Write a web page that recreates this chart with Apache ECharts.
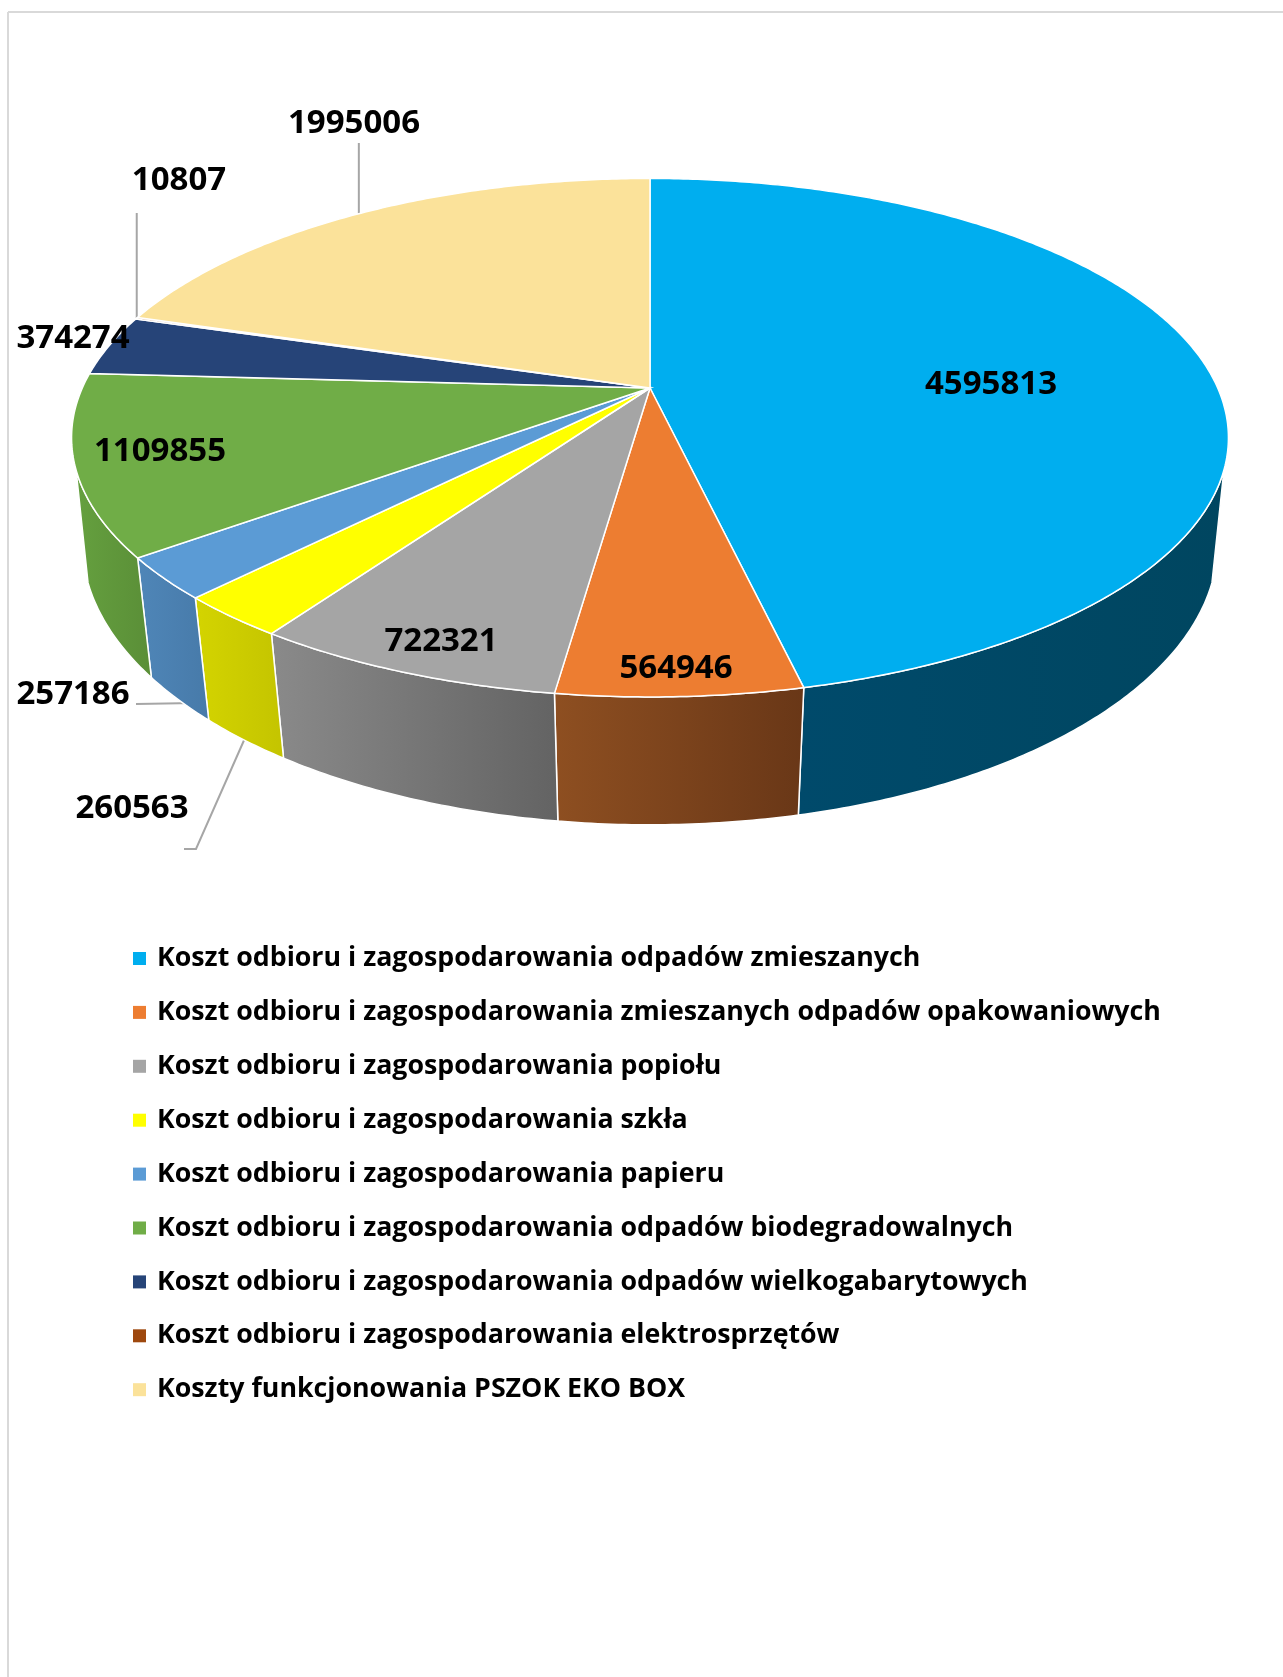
<!DOCTYPE html>
<html lang="pl">
<head>
<meta charset="utf-8">
<title>Koszty odbioru odpadów</title>
<script src="https://cdn.jsdelivr.net/npm/echarts@6/dist/echarts.min.js"></script>
<style>
  html, body { margin: 0; padding: 0; background: #fff; }
  #chart { width: 1283px; height: 1677px; }
</style>
</head>
<body>
<div id="chart"></div>
<script>
const categories = [
  'Koszt odbioru i zagospodarowania odpadów zmieszanych',
  'Koszt odbioru i zagospodarowania zmieszanych odpadów opakowaniowych',
  'Koszt odbioru i zagospodarowania popiołu',
  'Koszt odbioru i zagospodarowania szkła',
  'Koszt odbioru i zagospodarowania papieru',
  'Koszt odbioru i zagospodarowania odpadów biodegradowalnych',
  'Koszt odbioru i zagospodarowania odpadów wielkogabarytowych',
  'Koszt odbioru i zagospodarowania elektrosprzętów',
  'Koszty funkcjonowania PSZOK EKO BOX'
]
const values = [4595813, 564946, 722321, 260563, 257186, 1109855, 374274, 10807, 1995006]

const topColors = ['#00AEEF', '#ED7D31', '#A5A5A5', '#FFFF00', '#5B9BD5', '#70AD47', '#264478', '#9E480E', '#FBE29A']
const wallLeft = ['#004A6B', '#8E4F21', '#8A8A8A', '#D4D400', '#4F86B8', '#65A03F', '#1F3860', '#7A3A0C', '#C9B57B']
const wallRight = ['#004660', '#693717', '#636363', '#C4C400', '#477AA9', '#5A8E37', '#1F3860', '#7A3A0C', '#C9B57B']

// label centres in page pixels
const labelPos = [[991, 385], [676, 669], [441, 642], [132, 809], [73, 695], [160, 452], [73, 339], [179, 181], [354, 124]]

// pie projection: two discs seen in perspective, upper rim and wall foot
const cx = 650
const upper = {cy: 388, a: 567.7, b: 249.7, persp: 0.1917}
const lower = {cy: 493.6, a: 559.1, b: 273.6, persp: 0.174}
// the wall is only visible between these two angles (tangent of the silhouette)
const wallFrom = 108 / 180 * Math.PI
const wallTo = 252 / 180 * Math.PI

const total = values.reduce((a, b) => a + b, 0)
const starts = []
let running = 0
values.forEach(v => {
  starts.push(running / total * Math.PI * 2)
  running += v
})

function project(angle, disc) {
  const x = Math.sin(angle)
  const y = -Math.cos(angle)
  const f = 1 / (1 - disc.persp * y)
  return [cx + disc.a * x * f, disc.cy + disc.b * y * f]
}

function arcBetween(a0, a1, disc) {
  const n = Math.max(2, Math.ceil((a1 - a0) / 0.01))
  const pts = []
  for (let j = 0; j <= n; j++) pts.push(project(a0 + (a1 - a0) * j / n, disc))
  return pts
}

function endAngle(i) {
  return starts[i] + values[i] / total * Math.PI * 2
}

function midAngle(i) {
  return starts[i] + values[i] / total * Math.PI
}

function renderWall(params) {
  const i = params.dataIndex
  const a0 = Math.max(starts[i], wallFrom)
  const a1 = Math.min(endAngle(i), wallTo)
  if (a1 <= a0) return null
  return {
    type: 'polygon',
    shape: {points: arcBetween(a0, a1, upper).concat(arcBetween(a0, a1, lower).reverse())},
    style: {
      fill: new echarts.graphic.LinearGradient(0, 0, 1, 0, [
        {offset: 0, color: wallLeft[i]},
        {offset: 1, color: wallRight[i]}
      ]),
      stroke: '#fff',
      lineWidth: 1.5
    }
  }
}

function renderTop(i) {
  return function () {
    return {
      type: 'polygon',
      shape: {points: [[cx, upper.cy]].concat(arcBetween(starts[i], endAngle(i), upper))},
      style: {fill: topColors[i], stroke: '#fff', lineWidth: 1.5}
    }
  }
}

// 1995006 and 10807 go straight up from the rim, the two front ones leave the wall foot
function leaderPoints(i) {
  if (i === 8) {
    const p = project(midAngle(i), upper)
    return [p, [p[0], 143]]
  }
  if (i === 7) {
    const p = project(midAngle(i), upper)
    return [p, [p[0], 213]]
  }
  // starts under the wall, the walls are drawn over it
  if (i === 4) return [[195, 703], [136, 704]]
  if (i === 3) return [project(midAngle(i), lower), [196, 849], [184, 849]]
  return null
}

const series = [
  {
    type: 'custom',
    name: 'linie',
    coordinateSystem: 'none',
    silent: true,
    data: values.map((v, i) => i),
    renderItem: function (params) {
      const pts = leaderPoints(params.dataIndex)
      if (!pts) return null
      return {
        type: 'polyline',
        shape: {points: pts},
        style: {fill: null, stroke: '#A6A6A6', lineWidth: 2}
      }
    }
  },
  {
    type: 'custom',
    name: 'boki',
    coordinateSystem: 'none',
    silent: true,
    data: values.map((v, i) => i),
    renderItem: renderWall
  }
]

categories.forEach((name, i) => {
  series.push({
    type: 'custom',
    name: name,
    coordinateSystem: 'none',
    silent: true,
    itemStyle: {color: topColors[i]},
    data: [values[i]],
    renderItem: renderTop(i)
  })
})

series.push({
  type: 'custom',
  name: 'etykiety',
  coordinateSystem: 'none',
  silent: true,
  data: values,
  renderItem: function (params) {
    const i = params.dataIndex
    return {
      type: 'text',
      x: labelPos[i][0],
      y: labelPos[i][1],
      style: {
        text: String(values[i]),
        fill: '#000',
        font: '700 33px "Open Sans", sans-serif',
        textAlign: 'center',
        textVerticalAlign: 'middle'
      }
    }
  }
})

const chart = echarts.init(document.getElementById('chart'), null, {renderer: 'canvas'})
chart.setOption({
  animation: false,
  backgroundColor: '#fff',
  tooltip: {show: false},
  legend: {
    data: categories,
    orient: 'vertical',
    left: 128,
    top: 940,
    icon: 'rect',
    itemWidth: 13,
    itemHeight: 13,
    itemGap: 26.9,
    selectedMode: false,
    textStyle: {
      color: '#000',
      fontFamily: '"Open Sans", sans-serif',
      fontWeight: 700,
      fontSize: 26.75,
      lineHeight: 25,
      padding: [0, 0, 0, 6]
    }
  },
  graphic: [
    {type: 'line', silent: true, shape: {x1: 8, y1: 12, x2: 8, y2: 1677}, style: {stroke: '#D9D9D9', lineWidth: 2}},
    {type: 'line', silent: true, shape: {x1: 8, y1: 12, x2: 1283, y2: 12}, style: {stroke: '#D9D9D9', lineWidth: 2}}
  ],
  series: series
})
</script>
</body>
</html>
